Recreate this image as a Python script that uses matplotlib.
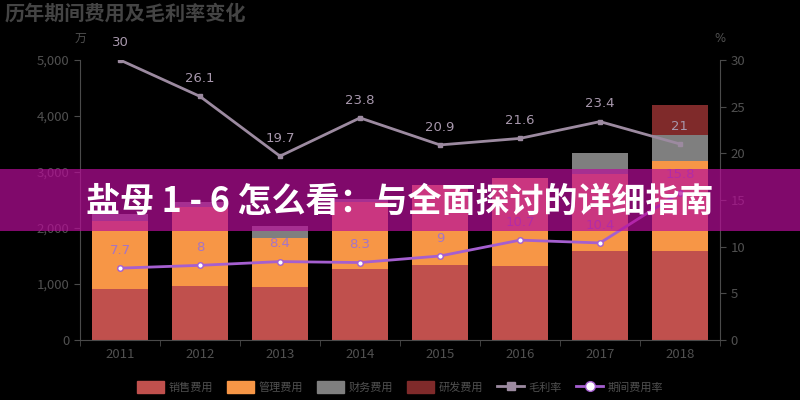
import matplotlib
matplotlib.use("Agg")
import matplotlib.pyplot as plt
from matplotlib.patches import Patch, Rectangle
from matplotlib.lines import Line2D
import numpy as np

plt.rcParams['font.family'] = ['Noto Sans CJK SC', 'DejaVu Sans']

years = ['2011', '2012', '2013', '2014', '2015', '2016', '2017', '2018']
sales = [910, 964, 952, 1262, 1338, 1321, 1589, 1595]
admin = [1215, 1416, 864, 1208, 1430, 1580, 1370, 1607]
finance = [125, 79, 225, 48, 0, 0, 374, 459]
rnd = [0, 0, 0, 0, 0, 0, 0, 535]
gross_margin = [30, 26.1, 19.7, 23.8, 20.9, 21.6, 23.4, 21]
expense_rate = [7.7, 8, 8.4, 8.3, 9, 10.7, 10.4, 15.8]

c_sales = '#c0504d'
c_admin = '#f79646'
c_fin = '#7f7f7f'
c_rnd = '#7f2a2a'
c_gm = '#9c8aa0'
c_er = '#a55fd0'
c_tick = '#505050'
c_axis = '#4a4a4a'

fig = plt.figure(figsize=(8, 4), dpi=100, facecolor='black')
ax = fig.add_axes([0.1, 0.15, 0.8, 0.7])
ax.set_facecolor('black')
x = np.arange(len(years))
w = 0.7
b1 = np.array(sales)
b2 = b1 + np.array(admin)
b3 = b2 + np.array(finance)
ax.bar(x, sales, w, color=c_sales, zorder=2)
ax.bar(x, admin, w, bottom=b1, color=c_admin, zorder=2)
ax.bar(x, finance, w, bottom=b2, color=c_fin, zorder=2)
ax.bar(x, rnd, w, bottom=b3, color=c_rnd, zorder=2)
ax.set_xlim(-0.5, len(years) - 0.5)
ax.set_ylim(0, 5000)
ax.set_yticks([0, 1000, 2000, 3000, 4000, 5000])
ax.set_yticklabels(['0', '1,000', '2,000', '3,000', '4,000', '5,000'])
ax.set_xticks(x)
ax.set_xticklabels(years)
ax.set_xticks(np.arange(-0.5, len(years)), minor=True)
ax.tick_params(axis='x', which='major', length=0, colors=c_tick, labelsize=9.5, pad=6)
ax.tick_params(axis='x', which='minor', length=4, color=c_axis)
ax.tick_params(axis='y', length=4, color=c_axis, colors=c_tick, labelsize=9.5)
for s in ['top', 'right']:
    ax.spines[s].set_visible(False)
ax.spines['left'].set_color(c_axis)
ax.spines['bottom'].set_color(c_axis)

ax2 = ax.twinx()
ax2.set_ylim(0, 30)
ax2.set_yticks([0, 5, 10, 15, 20, 25, 30])
ax2.tick_params(axis='y', length=4, color=c_axis, colors=c_tick, labelsize=9.5)
for s in ['top', 'left', 'bottom']:
    ax2.spines[s].set_visible(False)
ax2.spines['right'].set_color(c_axis)
ax2.plot(x, gross_margin, color=c_gm, lw=2, marker='s', ms=3, zorder=3)
ax2.plot(x, expense_rate, color=c_er, lw=2, marker='o', ms=4,
         markerfacecolor='white', markeredgecolor=c_er, markeredgewidth=1, zorder=3)
for xi, v in zip(x, gross_margin):
    ax2.annotate(f'{v:g}', (xi, v), xytext=(0, 8), textcoords='offset points',
                 ha='center', va='bottom', color='#a898ad', fontsize=9.5, family='DejaVu Sans')
for xi, v in zip(x, expense_rate):
    ax2.annotate(f'{v:g}', (xi, v), xytext=(0, 8), textcoords='offset points',
                 ha='center', va='bottom', color='#a474c8', fontsize=9.5, family='DejaVu Sans')

fig.text(0.1, 0.905, '万', color=c_tick, fontsize=8.5, ha='center', va='center')
fig.text(0.9, 0.905, '%', color=c_tick, fontsize=8.5, ha='center', va='center', family='DejaVu Sans')
fig.text(0.006, 0.968, '历年期间费用及毛利率变化', color='#444444', fontsize=14.5,
         fontweight='bold', ha='left', va='center')

handles = [Patch(color=c_sales), Patch(color=c_admin), Patch(color=c_fin), Patch(color=c_rnd),
           Line2D([], [], color=c_gm, lw=2, marker='s', ms=6),
           Line2D([], [], color=c_er, lw=2, marker='o', ms=7, markerfacecolor='white',
                  markeredgecolor=c_er)]
labels = ['销售费用', '管理费用', '财务费用', '研发费用', '毛利率', '期间费用率']
leg = fig.legend(handles, labels, loc='center', bbox_to_anchor=(0.5, 0.032), ncol=6,
                 frameon=False, fontsize=8, handlelength=2.4, handleheight=1.2,
                 handletextpad=0.4, columnspacing=1.3, labelcolor=c_tick)

# overlay banner
fig.patches.append(Rectangle((0, 1 - 231 / 400), 1, 62 / 400, transform=fig.transFigure,
                             facecolor=(0.72, 0.05, 0.6), alpha=0.7, edgecolor='none', zorder=10))
fig.text(0.5, 1 - 201 / 400, '盐母 1 - 6 怎么看：与全面探讨的详细指南', color='white',
         fontsize=24.5, fontweight='heavy', ha='center', va='center', zorder=11)

fig.savefig('out.png', dpi=100, facecolor='black')
